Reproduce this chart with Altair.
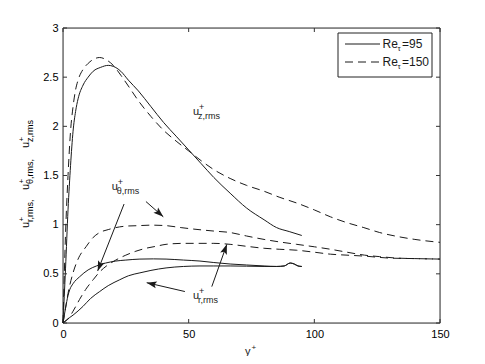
import math
import altair as alt
import pandas as pd

W, H = 377, 295

# ---------------- data ----------------
# Re_tau = 95 (solid lines)
z95_x = [0, 1, 2, 3, 4, 5, 6, 8, 10, 12, 15, 18, 20, 23, 26, 30, 35, 40, 45, 50, 55, 60, 66.5, 73, 80, 85, 90, 95]
z95_y = [0, 0.55, 1.15, 1.6, 1.95, 2.15, 2.28, 2.42, 2.5, 2.56, 2.6, 2.62, 2.61, 2.56, 2.47, 2.36, 2.2, 2.04, 1.9, 1.76, 1.62, 1.48, 1.32, 1.17, 1.05, 0.97, 0.93, 0.89]

t95_x = [0, 1, 2, 2.7, 4, 6.6, 10, 13.3, 17, 21, 25, 30.6, 36, 41, 48, 54.5, 60, 66.5, 73, 80, 85, 88, 90.4, 92, 93.5, 95]
t95_y = [0, 0.15, 0.28, 0.34, 0.4, 0.47, 0.54, 0.58, 0.61, 0.63, 0.64, 0.65, 0.652, 0.65, 0.64, 0.63, 0.615, 0.6, 0.59, 0.58, 0.575, 0.58, 0.61, 0.6, 0.58, 0.575]

r95_x = [0, 1.3, 4, 8, 11, 14.6, 18, 22.6, 26, 30.6, 35, 41, 48, 54.5, 60, 66.5, 73, 80, 85, 88, 90.4, 92, 93.5, 95]
r95_y = [0, 0.03, 0.08, 0.17, 0.25, 0.32, 0.38, 0.44, 0.48, 0.51, 0.535, 0.56, 0.575, 0.58, 0.58, 0.58, 0.578, 0.575, 0.575, 0.58, 0.61, 0.6, 0.58, 0.575]

# Re_tau = 150 (dashed lines)
z150_x = [0, 1, 2, 3, 4, 5, 6, 8, 10, 12, 14.6, 17, 20, 23, 26, 30, 35, 40, 45, 50, 55, 60, 66.5, 73, 80, 86, 93, 100, 106.4, 113, 119.7, 126, 133, 140, 150]
z150_y = [0, 0.9, 1.5, 1.95, 2.2, 2.37, 2.47, 2.58, 2.64, 2.68, 2.7, 2.68, 2.62, 2.52, 2.41, 2.26, 2.1, 1.96, 1.85, 1.75, 1.65, 1.56, 1.47, 1.4, 1.34, 1.28, 1.22, 1.15, 1.08, 1.02, 0.97, 0.92, 0.88, 0.85, 0.82]

t150_x = [0, 1, 2, 4, 6, 9.3, 12, 14.6, 18, 21, 25, 30, 35, 41, 47, 52, 60, 66.5, 73, 80, 86, 93, 100, 106.4, 113, 120, 126, 133, 140, 150]
t150_y = [0, 0.15, 0.3, 0.51, 0.65, 0.78, 0.87, 0.92, 0.95, 0.97, 0.985, 0.99, 0.995, 0.99, 0.97, 0.955, 0.935, 0.92, 0.885, 0.85, 0.825, 0.8, 0.775, 0.75, 0.72, 0.69, 0.675, 0.66, 0.655, 0.65]

r150_x = [0, 2, 4, 6.6, 9, 12, 14.6, 17.3, 21, 25, 29, 33, 37, 41, 48, 54.5, 60, 66.5, 73, 80, 86, 93, 100, 106.4, 113, 120, 130, 140, 150]
r150_y = [0, 0.04, 0.12, 0.24, 0.34, 0.44, 0.52, 0.58, 0.64, 0.69, 0.73, 0.76, 0.78, 0.80, 0.81, 0.81, 0.81, 0.80, 0.78, 0.76, 0.75, 0.74, 0.72, 0.70, 0.69, 0.68, 0.66, 0.655, 0.65]

x_ticks = [0, 50, 100, 150]
y_ticks = [0, 0.5, 1, 1.5, 2, 2.5, 3]

# annotation labels (data coordinates of the base "u")
lab_sub = ["z,rms", "θ,rms", "r,rms"]
lab_x = [51.7, 19.4, 51.7]
lab_y = [2.12, 1.356, 0.247]

# arrows: start -> tip, data coordinates
arr_x1 = [24.3, 33.0, 48.5, 59.2]
arr_y1 = [1.21, 1.235, 0.32, 0.37]
arr_x2 = [13.8, 39.9, 33.3, 65.2]
arr_y2 = [0.53, 1.08, 0.41, 0.80]

legend_labels = ["95", "150"]

# y-axis title pieces (start of each "u", in y units)
ytitle_sub = ["r,rms,", "θ,rms,", "z,rms"]
ytitle_y = [0.966, 1.353, 1.78]

# ---------------- build tables ----------------
def frame(pairs):
    rows = []
    for name, xs, ys in pairs:
        for a, b in zip(xs, ys):
            rows.append({"curve": name, "x": a, "y": b})
    return pd.DataFrame(rows)

df95 = frame([("z95", z95_x, z95_y), ("t95", t95_x, t95_y), ("r95", r95_x, r95_y)])
df150 = frame([("z150", z150_x, z150_y), ("t150", t150_x, t150_y), ("r150", r150_x, r150_y)])

kx, ky = W / 150.0, H / 3.0
angs = []
for a1, b1, a2, b2 in zip(arr_x1, arr_y1, arr_x2, arr_y2):
    dx = (a2 - a1) * kx
    dy = -(b2 - b1) * ky
    angs.append(round(math.degrees(math.atan2(dx, -dy)) % 360, 1))
arr = pd.DataFrame({"x1": arr_x1, "y1": arr_y1, "x2": arr_x2, "y2": arr_y2, "ang": angs})
labs = pd.DataFrame({"x": lab_x, "y": lab_y, "sub": lab_sub})
ytl = pd.DataFrame({"y": ytitle_y, "sub": ytitle_sub})
one = pd.DataFrame({"a": [0]})

xs_ = alt.Scale(domain=[0, 150], nice=False, zero=False)
ys_ = alt.Scale(domain=[0, 3], nice=False, zero=False)
FONT = "Liberation Sans"
INK = "#1a1a1a"

solid = alt.Chart(df95).mark_line(strokeWidth=1, color=INK, interpolate="monotone").encode(
    x=alt.X("x:Q", scale=xs_, axis=alt.Axis(values=x_ticks, title=None, format="~r", labelFlush=False)),
    y=alt.Y("y:Q", scale=ys_, axis=alt.Axis(values=y_ticks, title=None, format="~r", labelFlush=False)),
    detail="curve:N",
)
dashed = alt.Chart(df150).mark_line(strokeWidth=1, color=INK, interpolate="monotone", strokeDash=[8, 5]).encode(
    x=alt.X("x:Q", scale=xs_), y=alt.Y("y:Q", scale=ys_), detail="curve:N",
)

# rotated y title: "u", superscript "+", subscript, offsets along the rotated text
yt_u = alt.Chart(ytl).mark_text(align="left", baseline="alphabetic", angle=270, fontSize=11).encode(
    x=alt.value(-34.5), y=alt.Y("y:Q", scale=ys_), text=alt.value("u"))
yt_p = alt.Chart(ytl).mark_text(align="left", baseline="alphabetic", angle=270, fontSize=8, dx=6.5, dy=-5).encode(
    x=alt.value(-34.5), y=alt.Y("y:Q", scale=ys_), text=alt.value("+"))
yt_s = alt.Chart(ytl).mark_text(align="left", baseline="alphabetic", angle=270, fontSize=9, dx=6, dy=4).encode(
    x=alt.value(-34.5), y=alt.Y("y:Q", scale=ys_), text="sub:N")
xt_y = alt.Chart(one).mark_text(align="left", baseline="alphabetic", fontSize=11, font=FONT, color=INK).encode(
    x=alt.value(182), y=alt.value(327), text=alt.value("y"))
xt_p = alt.Chart(one).mark_text(align="left", baseline="alphabetic", fontSize=8, font=FONT, color=INK).encode(
    x=alt.value(188.5), y=alt.value(322), text=alt.value("+"))

# frame and inward ticks
xt = pd.DataFrame({"t": x_ticks})
yt = pd.DataFrame({"t": y_ticks})
FR = "#333"
box = alt.Chart(one).mark_rect(fill="white", fillOpacity=0, stroke=FR, strokeWidth=1).encode(
    x=alt.value(0), x2=alt.value(W), y=alt.value(0), y2=alt.value(H))
ticks = [
    alt.Chart(xt).mark_rule(color=FR).encode(x=alt.X("t:Q", scale=xs_), y=alt.value(H), y2=alt.value(H - 4)),
    alt.Chart(xt).mark_rule(color=FR).encode(x=alt.X("t:Q", scale=xs_), y=alt.value(0), y2=alt.value(4)),
    alt.Chart(yt).mark_rule(color=FR).encode(y=alt.Y("t:Q", scale=ys_), x=alt.value(0), x2=alt.value(4)),
    alt.Chart(yt).mark_rule(color=FR).encode(y=alt.Y("t:Q", scale=ys_), x=alt.value(W), x2=alt.value(W - 4)),
]

arrow_lines = alt.Chart(arr).mark_rule(color=INK, strokeWidth=1).encode(
    x=alt.X("x1:Q", scale=xs_), y=alt.Y("y1:Q", scale=ys_), x2="x2:Q", y2="y2:Q",
)
heads = alt.Chart(arr).mark_point(
    shape="M0,0 L-0.35,1 L0,0.8 L0.35,1 Z", filled=True, color=INK, opacity=1, size=400, strokeWidth=0
).encode(x=alt.X("x2:Q", scale=xs_), y=alt.Y("y2:Q", scale=ys_), angle=alt.Angle("ang:Q", scale=None))

lab_u = alt.Chart(labs).mark_text(align="left", baseline="alphabetic", fontSize=11, font=FONT, color=INK).encode(
    x=alt.X("x:Q", scale=xs_), y=alt.Y("y:Q", scale=ys_), text=alt.value("u"))
lab_p = alt.Chart(labs).mark_text(align="left", baseline="alphabetic", fontSize=9, font=FONT, color=INK, dx=6, dy=-5).encode(
    x=alt.X("x:Q", scale=xs_), y=alt.Y("y:Q", scale=ys_), text=alt.value("+"))
lab_s = alt.Chart(labs).mark_text(align="left", baseline="alphabetic", fontSize=9, font=FONT, color=INK, dx=5, dy=4).encode(
    x=alt.X("x:Q", scale=xs_), y=alt.Y("y:Q", scale=ys_), text="sub:N")

# legend
leg = [
    alt.Chart(one).mark_rect(fill="white", stroke="#222", strokeWidth=1).encode(
        x=alt.value(275), x2=alt.value(369), y=alt.value(5), y2=alt.value(49)),
]
for i, (lab, dash) in enumerate(zip(legend_labels, [[1, 0], [8, 5]])):
    ly = 16 + i * 18
    leg.append(alt.Chart(one).mark_rule(color=INK, strokeWidth=1, strokeDash=dash).encode(
        x=alt.value(282), x2=alt.value(317), y=alt.value(ly)))
    leg.append(alt.Chart(one).mark_text(align="left", baseline="alphabetic", fontSize=12, font=FONT, color=INK).encode(
        x=alt.value(319.5), y=alt.value(ly + 4), text=alt.value("Re")))
    leg.append(alt.Chart(one).mark_text(align="left", baseline="alphabetic", fontSize=8, font=FONT, color=INK).encode(
        x=alt.value(334.5), y=alt.value(ly + 7), text=alt.value("τ")))
    leg.append(alt.Chart(one).mark_text(align="left", baseline="alphabetic", fontSize=12, font=FONT, color=INK).encode(
        x=alt.value(339), y=alt.value(ly + 4), text=alt.value("=" + lab)))

chart = alt.layer(
    solid, yt_u, yt_p, yt_s, xt_y, xt_p, box, *ticks, dashed, arrow_lines, heads,
    lab_u, lab_p, lab_s, *leg
).properties(
    width=W, height=H,
    autosize=alt.AutoSizeParams(type="none"),
    padding={"left": 55, "top": 20, "right": 37, "bottom": 33},
).configure_axis(
    ticks=False, domain=False, grid=False, labelFontSize=11, labelPadding=5,
)

chart.save("out.html", embed_options={"renderer": "svg", "actions": False})
